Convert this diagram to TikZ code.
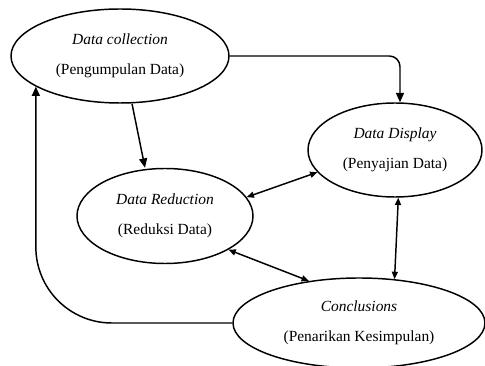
\documentclass[tikz,border=0pt]{standalone}
\usepackage{fontspec}
\setmainfont{Liberation Serif}
\usetikzlibrary{arrows.meta,shapes.geometric}
\begin{document}
\begin{tikzpicture}[x=0.75pt,y=-0.75pt,
  stage/.style={draw,ellipse,line width=1.1pt,inner sep=0pt,align=center,
    font=\fontsize{11.6}{22.5}\selectfont},
  conn/.style={line width=1.1pt,-{Triangle[length=7pt,width=6pt]}},
  dconn/.style={line width=1.1pt,{Triangle[length=5.5pt,width=4.5pt]}-{Triangle[length=5.5pt,width=4.5pt]}}]
\useasboundingbox (0,0) rectangle (485,366);
\node[stage,minimum width=163.5pt,minimum height=70.5pt] (A) at (120,56) {\textit{Data collection}\\(Pengumpulan Data)};
\node[stage,minimum width=130.5pt,minimum height=70.5pt] (B) at (395,150) {\textit{Data Display}\\(Penyajian Data)};
\node[stage,minimum width=132pt,minimum height=71.25pt] (C) at (165,216) {\textit{Data Reduction}\\(Reduksi Data)};
\node[stage,minimum width=189pt,minimum height=67.5pt] (D) at (359,323) {\textit{Conclusions}\\(Penarikan Kesimpulan)};
\draw[conn,rounded corners=8pt] (A.east) -| ([xshift=3.75pt]B.north);
\draw[conn] ([xshift=9pt]A.south) -- ([xshift=-15pt]C.north);
\draw[dconn] (C.13) -- (B.196);
\draw[dconn] (C.332) -- (D.140);
\draw[dconn] (B.274) -- (D.51);
\draw[conn,rounded corners=57pt] (D.west) -- (D.west -| A.200) -- (A.200);
\end{tikzpicture}
\end{document}
